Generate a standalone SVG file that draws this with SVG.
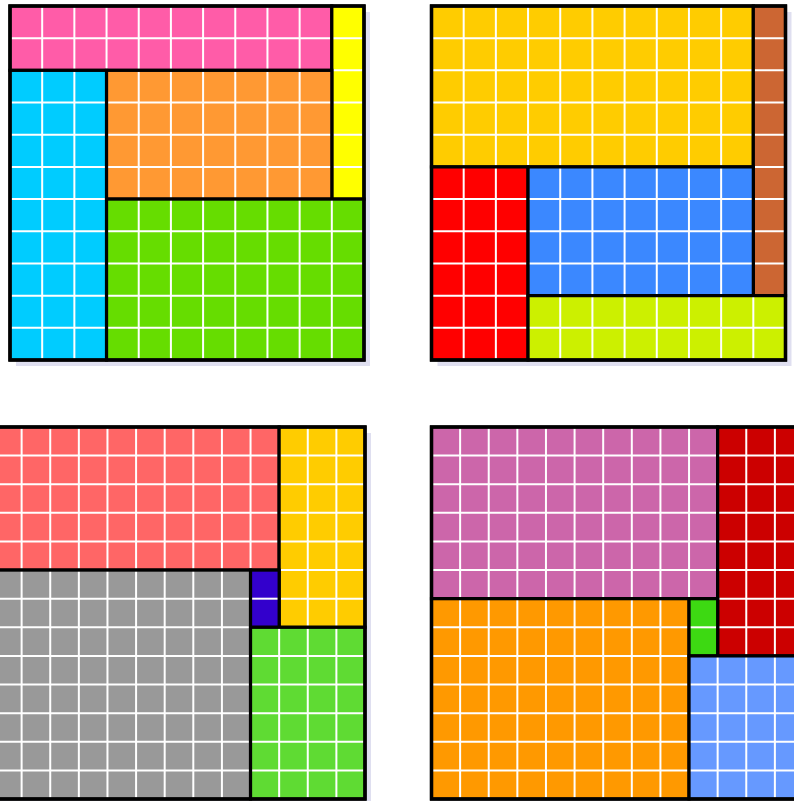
<svg xmlns="http://www.w3.org/2000/svg" width="794" height="801" viewBox="0 0 794 801">
<style>
.sh{fill:#dfdff0}
.g{fill:none;stroke:#ffffff;stroke-width:2}
.b{fill:none;stroke:#000000;stroke-width:3.2;stroke-linejoin:miter}
.o{fill:none;stroke:#000000;stroke-width:3.4}
</style>
<rect width="794" height="801" fill="#ffffff"/>

<!-- Panel 1 -->
<g id="panel1" transform="translate(10,6)">
<rect class="sh" x="6" y="6" width="354" height="354"/>
<g id="p1-pink"><rect x="0" y="0" width="321.82" height="64.36" fill="#ff5ca8"/><path class="g" d="M32.18 0V64.36M64.36 0V64.36M96.55 0V64.36M128.73 0V64.36M160.91 0V64.36M193.09 0V64.36M225.27 0V64.36M257.45 0V64.36M289.64 0V64.36M0 32.18H321.82"/><rect class="b" x="0" y="0" width="321.82" height="64.36"/></g>
<g id="p1-yellow"><rect x="321.82" y="0" width="32.18" height="193.09" fill="#ffff00"/><path class="g" d="M321.82 32.18H354M321.82 64.36H354M321.82 96.55H354M321.82 128.73H354M321.82 160.91H354"/><rect class="b" x="321.82" y="0" width="32.18" height="193.09"/></g>
<g id="p1-cyan"><rect x="0" y="64.36" width="96.55" height="289.64" fill="#00ccff"/><path class="g" d="M32.18 64.36V354M64.36 64.36V354M0 96.55H96.55M0 128.73H96.55M0 160.91H96.55M0 193.09H96.55M0 225.27H96.55M0 257.45H96.55M0 289.64H96.55M0 321.82H96.55"/><rect class="b" x="0" y="64.36" width="96.55" height="289.64"/></g>
<g id="p1-orange"><rect x="96.55" y="64.36" width="225.27" height="128.73" fill="#ff9933"/><path class="g" d="M128.73 64.36V193.09M160.91 64.36V193.09M193.09 64.36V193.09M225.27 64.36V193.09M257.45 64.36V193.09M289.64 64.36V193.09M96.55 96.55H321.82M96.55 128.73H321.82M96.55 160.91H321.82"/><rect class="b" x="96.55" y="64.36" width="225.27" height="128.73"/></g>
<g id="p1-green"><rect x="96.55" y="193.09" width="257.45" height="160.91" fill="#66dd00"/><path class="g" d="M128.73 193.09V354M160.91 193.09V354M193.09 193.09V354M225.27 193.09V354M257.45 193.09V354M289.64 193.09V354M321.82 193.09V354M96.55 225.27H354M96.55 257.45H354M96.55 289.64H354M96.55 321.82H354"/><rect class="b" x="96.55" y="193.09" width="257.45" height="160.91"/></g>
<rect class="o" x="0" y="0" width="354" height="354"/>
</g>

<!-- Panel 2 -->
<g id="panel2" transform="translate(431.5,6)">
<rect class="sh" x="6" y="6" width="354" height="354"/>
<g id="p2-gold"><rect x="0" y="0" width="321.82" height="160.91" fill="#ffcc00"/><path class="g" d="M32.18 0V160.91M64.36 0V160.91M96.55 0V160.91M128.73 0V160.91M160.91 0V160.91M193.09 0V160.91M225.27 0V160.91M257.45 0V160.91M289.64 0V160.91M0 32.18H321.82M0 64.36H321.82M0 96.55H321.82M0 128.73H321.82"/><rect class="b" x="0" y="0" width="321.82" height="160.91"/></g>
<g id="p2-brown"><rect x="321.82" y="0" width="32.18" height="289.64" fill="#cc6633"/><path class="g" d="M321.82 32.18H354M321.82 64.36H354M321.82 96.55H354M321.82 128.73H354M321.82 160.91H354M321.82 193.09H354M321.82 225.27H354M321.82 257.45H354"/><rect class="b" x="321.82" y="0" width="32.18" height="289.64"/></g>
<g id="p2-red"><rect x="0" y="160.91" width="96.55" height="193.09" fill="#ff0000"/><path class="g" d="M32.18 160.91V354M64.36 160.91V354M0 193.09H96.55M0 225.27H96.55M0 257.45H96.55M0 289.64H96.55M0 321.82H96.55"/><rect class="b" x="0" y="160.91" width="96.55" height="193.09"/></g>
<g id="p2-blue"><rect x="96.55" y="160.91" width="225.27" height="128.73" fill="#3b88ff"/><path class="g" d="M128.73 160.91V289.64M160.91 160.91V289.64M193.09 160.91V289.64M225.27 160.91V289.64M257.45 160.91V289.64M289.64 160.91V289.64M96.55 193.09H321.82M96.55 225.27H321.82M96.55 257.45H321.82"/><rect class="b" x="96.55" y="160.91" width="225.27" height="128.73"/></g>
<g id="p2-lime"><rect x="96.55" y="289.64" width="257.45" height="64.36" fill="#ccf000"/><path class="g" d="M128.73 289.64V354M160.91 289.64V354M193.09 289.64V354M225.27 289.64V354M257.45 289.64V354M289.64 289.64V354M321.82 289.64V354M96.55 321.82H354"/><rect class="b" x="96.55" y="289.64" width="257.45" height="64.36"/></g>
<rect class="o" x="0" y="0" width="354" height="354"/>
</g>

<!-- Panel 3 -->
<g id="panel3" transform="translate(-7,427)">
<rect class="sh" x="6" y="6" width="372" height="372"/>
<g id="p3-salmon"><rect x="0" y="0" width="286.15" height="143.08" fill="#ff6666"/><path class="g" d="M28.62 0V143.08M57.23 0V143.08M85.85 0V143.08M114.46 0V143.08M143.08 0V143.08M171.69 0V143.08M200.31 0V143.08M228.92 0V143.08M257.54 0V143.08M0 28.62H286.15M0 57.23H286.15M0 85.85H286.15M0 114.46H286.15"/><rect class="b" x="0" y="0" width="286.15" height="143.08"/></g>
<g id="p3-gold"><rect x="286.15" y="0" width="85.85" height="200.31" fill="#ffcc00"/><path class="g" d="M314.77 0V200.31M343.38 0V200.31M286.15 28.62H372M286.15 57.23H372M286.15 85.85H372M286.15 114.46H372M286.15 143.08H372M286.15 171.69H372"/><rect class="b" x="286.15" y="0" width="85.85" height="200.31"/></g>
<g id="p3-gray"><rect x="0" y="143.08" width="257.54" height="228.92" fill="#999999"/><path class="g" d="M28.62 143.08V372M57.23 143.08V372M85.85 143.08V372M114.46 143.08V372M143.08 143.08V372M171.69 143.08V372M200.31 143.08V372M228.92 143.08V372M0 171.69H257.54M0 200.31H257.54M0 228.92H257.54M0 257.54H257.54M0 286.15H257.54M0 314.77H257.54M0 343.38H257.54"/><rect class="b" x="0" y="143.08" width="257.54" height="228.92"/></g>
<g id="p3-purple"><rect x="257.54" y="143.08" width="28.62" height="57.23" fill="#3300cc"/><path class="g" d="M257.54 171.69H286.15"/><rect class="b" x="257.54" y="143.08" width="28.62" height="57.23"/></g>
<g id="p3-green"><rect x="257.54" y="200.31" width="114.46" height="171.69" fill="#5fdb33"/><path class="g" d="M286.15 200.31V372M314.77 200.31V372M343.38 200.31V372M257.54 228.92H372M257.54 257.54H372M257.54 286.15H372M257.54 314.77H372M257.54 343.38H372"/><rect class="b" x="257.54" y="200.31" width="114.46" height="171.69"/></g>
<rect class="o" x="0" y="0" width="372" height="372"/>
</g>

<!-- Panel 4 -->
<g id="panel4" transform="translate(431.5,427)">
<rect class="sh" x="6" y="6" width="372" height="372"/>
<g id="p4-orchid"><rect x="0" y="0" width="286.15" height="171.69" fill="#cc66aa"/><path class="g" d="M28.62 0V171.69M57.23 0V171.69M85.85 0V171.69M114.46 0V171.69M143.08 0V171.69M171.69 0V171.69M200.31 0V171.69M228.92 0V171.69M257.54 0V171.69M0 28.62H286.15M0 57.23H286.15M0 85.85H286.15M0 114.46H286.15M0 143.08H286.15"/><rect class="b" x="0" y="0" width="286.15" height="171.69"/></g>
<g id="p4-darkred"><rect x="286.15" y="0" width="85.85" height="228.92" fill="#cc0000"/><path class="g" d="M314.77 0V228.92M343.38 0V228.92M286.15 28.62H372M286.15 57.23H372M286.15 85.85H372M286.15 114.46H372M286.15 143.08H372M286.15 171.69H372M286.15 200.31H372"/><rect class="b" x="286.15" y="0" width="85.85" height="228.92"/></g>
<g id="p4-orange"><rect x="0" y="171.69" width="257.54" height="200.31" fill="#ff9900"/><path class="g" d="M28.62 171.69V372M57.23 171.69V372M85.85 171.69V372M114.46 171.69V372M143.08 171.69V372M171.69 171.69V372M200.31 171.69V372M228.92 171.69V372M0 200.31H257.54M0 228.92H257.54M0 257.54H257.54M0 286.15H257.54M0 314.77H257.54M0 343.38H257.54"/><rect class="b" x="0" y="171.69" width="257.54" height="200.31"/></g>
<g id="p4-green"><rect x="257.54" y="171.69" width="28.62" height="57.23" fill="#3dd912"/><path class="g" d="M257.54 200.31H286.15"/><rect class="b" x="257.54" y="171.69" width="28.62" height="57.23"/></g>
<g id="p4-blue"><rect x="257.54" y="228.92" width="114.46" height="143.08" fill="#6699ff"/><path class="g" d="M286.15 228.92V372M314.77 228.92V372M343.38 228.92V372M257.54 257.54H372M257.54 286.15H372M257.54 314.77H372M257.54 343.38H372"/><rect class="b" x="257.54" y="228.92" width="114.46" height="143.08"/></g>
<rect class="o" x="0" y="0" width="372" height="372"/>
</g>
</svg>
